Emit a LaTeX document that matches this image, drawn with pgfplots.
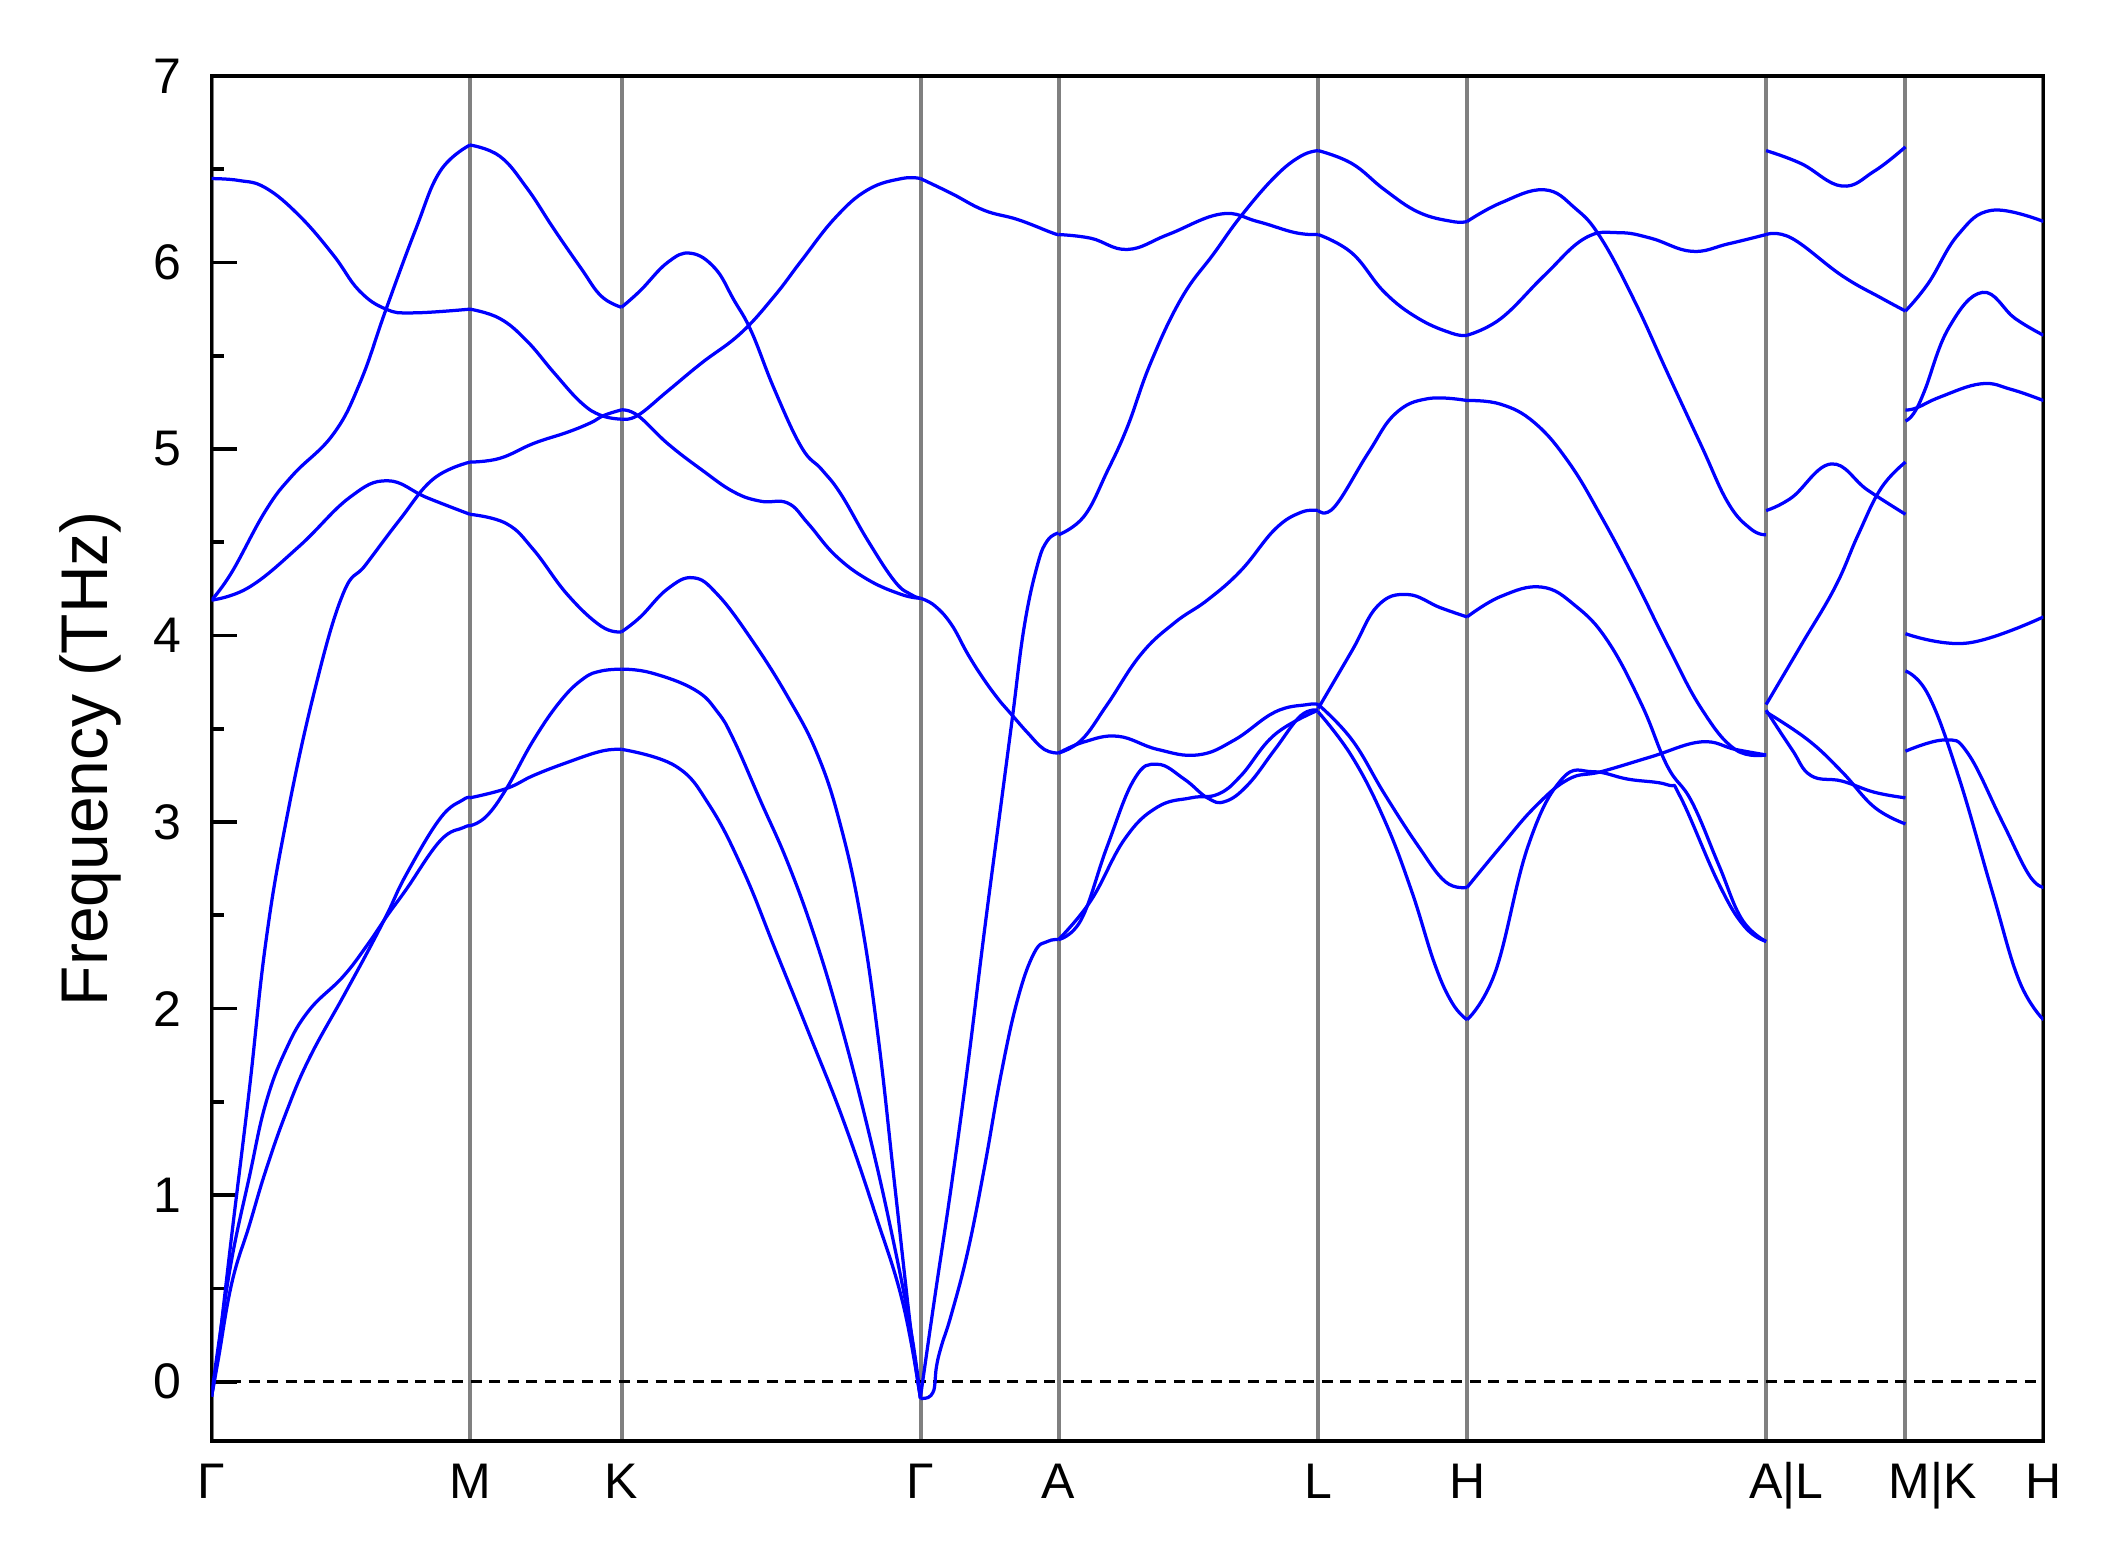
\documentclass[border=0pt]{standalone}
\usepackage{fontspec}
\setmainfont{Liberation Sans}
\usepackage{pgfplots}
\pgfplotsset{compat=1.18}
\pgfplotsset{band/.style={color={rgb,255:red,0;green,0;blue,255}, line width=0.65pt, smooth, tension=0.7, mark=none}}
\begin{document}
\begin{tikzpicture}
\useasboundingbox (-42.3pt,-25.2pt) rectangle (381.6pt,288.2pt);
\begin{axis}[
  at={(0pt,0pt)}, anchor=south west,
  scale only axis, width=366.3pt, height=273pt,
  xmin=0, xmax=1354, ymin=-0.32, ymax=7,
  axis line style={line width=0.75pt},
  ytick={0,1,2,3,4,5,6,7}, minor y tick num=1, ytick pos=left, tick align=inside,
  major tick length=5pt, minor tick length=2.5pt,
  ytick style={line width=0.75pt, black},
  xtick={0,191,303,524,626,818,928,1149,1252,1354},
  xticklabels={Γ,M,K,Γ,A,L,H,{\hspace*{8pt}A|L},{\hspace*{11pt}M|K},H},
  xtick style={draw=none},
  xmajorgrids, major x grid style={color={rgb,255:red,128;green,128;blue,128}, line width=0.8pt},
  /pgf/number format/assume math mode=true,
  tick label style={font=\fontsize{10}{12}\selectfont},
  yticklabel style={xshift=-2.5pt},
  xticklabel style={text height=7.3pt, yshift=-0.5pt},
  ylabel={Frequency (THz)},
  ylabel style={at={(axis description cs:-0.066,0.5)}, anchor=center, font=\fontsize{13.2}{16}\selectfont},
]
\addplot[black, line width=0.7pt, dash pattern=on 2.2pt off 1.5pt] coordinates {(0,0) (1354,0)};
% Gamma - M
\addplot[band] coordinates {(0,6.45)(20,6.44)(40,6.40)(65,6.25)(90,6.04)(109,5.85)(129,5.75)(149,5.73)(191,5.75)};
\addplot[band] coordinates {(0,4.19)(15,4.34)(40,4.67)(60,4.86)(90,5.08)(110,5.36)(129,5.75)(151,6.18)(169,6.49)(191,6.63)};
\addplot[band] coordinates {(0,4.19)(28,4.26)(65,4.48)(102,4.74)(130,4.83)(159,4.74)(191,4.65)};
\addplot[band] coordinates {(0,-0.08)(5,0.17)(15,0.79)(28,1.57)(40,2.35)(55,3.0)(76,3.70)(97,4.22)(114,4.38)(139,4.62)(164,4.84)(191,4.93)};
\addplot[band] coordinates {(0,-0.08)(5,0.19)(15,0.66)(28,1.10)(40,1.49)(55,1.78)(72,1.99)(97,2.17)(115,2.34)(130,2.50)(144,2.64)(169,2.90)(186,2.97)(191,2.98)};
\addplot[band] coordinates {(0,-0.08)(5,0.12)(15,0.53)(28,0.84)(40,1.13)(55,1.44)(72,1.73)(97,2.06)(115,2.30)(130,2.51)(144,2.72)(169,3.02)(186,3.12)(191,3.13)};
% M - K
\addplot[band] coordinates {(191,6.63)(213,6.57)(233,6.40)(253,6.18)(273,5.97)(288,5.82)(303,5.76)};
\addplot[band] coordinates {(191,5.75)(213,5.70)(233,5.58)(253,5.41)(273,5.25)(288,5.18)(303,5.16)};
\addplot[band] coordinates {(191,4.93)(213,4.95)(238,5.03)(263,5.09)(280,5.14)(290,5.18)(303,5.21)};
\addplot[band] coordinates {(191,4.65)(218,4.60)(238,4.46)(263,4.22)(288,4.05)(303,4.02)};
\addplot[band] coordinates {(191,2.98)(203,3.03)(218,3.18)(238,3.44)(258,3.65)(275,3.77)(288,3.81)(303,3.82)};
\addplot[band] coordinates {(191,3.13)(218,3.18)(238,3.25)(263,3.32)(288,3.38)(303,3.39)};
% K - Gamma
\addplot[band] coordinates {(303,5.76)(317,5.85)(337,6.0)(354,6.05)(372,5.97)(386,5.80)(399,5.63)(416,5.32)(436,5.01)(451,4.89)(465,4.76)(485,4.51)(505,4.29)(517,4.22)(524,4.20)};
\addplot[band] coordinates {(303,5.16)(315,5.18)(337,5.31)(362,5.46)(391,5.62)(416,5.82)(436,6.01)(461,6.24)(485,6.39)(510,6.45)(524,6.45)};
\addplot[band] coordinates {(303,5.21)(315,5.18)(337,5.03)(362,4.89)(386,4.77)(406,4.72)(426,4.71)(441,4.60)(461,4.43)(485,4.30)(510,4.22)(524,4.20)};
\addplot[band] coordinates {(303,4.02)(317,4.10)(337,4.25)(356,4.31)(374,4.22)(399,3.98)(426,3.67)(448,3.36)(465,2.98)(480,2.48)(493,1.83)(505,1.05)(517,0.27)(524,-0.09)};
\addplot[band] coordinates {(303,3.82)(325,3.80)(357,3.71)(374,3.59)(386,3.44)(406,3.11)(426,2.78)(446,2.38)(465,1.92)(485,1.36)(502,0.82)(517,0.27)(524,-0.09)};
\addplot[band] coordinates {(303,3.39)(343,3.30)(368,3.09)(393,2.74)(417,2.31)(442,1.86)(467,1.40)(491,0.89)(511,0.42)(524,-0.09)};
% Gamma - A
\addplot[band] coordinates {(524,6.45)(547,6.37)(571,6.28)(596,6.23)(621,6.16)(626,6.15)};
\addplot[band] coordinates {(524,4.20)(534.5,4.16)(546.8,4.06)(559,3.90)(571.3,3.76)(583.6,3.64)(592.1,3.57)(603,3.48)(615.4,3.39)(626,3.37)};
\addplot[band] coordinates {(524,-0.08)(534.5,0.45)(546.8,1.05)(559,1.70)(571.3,2.42)(583.6,3.10)(592.1,3.57)(600.7,4.05)(610.5,4.38)(617.9,4.51)(626,4.55)};
\addplot[band] coordinates {(524,-0.09)(529.6,-0.085)(533,-0.06)(534.5,-0.02)(535.8,0.08)(539.4,0.19)(546.8,0.36)(559,0.70)(571.3,1.15)(583.6,1.65)(595.8,2.05)(608.1,2.30)(617.9,2.36)(626,2.37)};
% A - L
\addplot[band] coordinates {(626,6.15)(650,6.13)(677,6.07)(707,6.15)(746,6.26)(773,6.22)(801,6.16)(818,6.15)};
\addplot[band] coordinates {(626,4.54)(645,4.64)(662,4.88)(677,5.12)(694,5.46)(717,5.81)(741,6.05)(761,6.25)(786,6.46)(805,6.57)(818,6.60)};
\addplot[band] coordinates {(626,3.37)(643,3.44)(662,3.63)(687,3.90)(712,4.07)(736,4.19)(761,4.35)(786,4.57)(805,4.66)(818,4.67)};
\addplot[band] coordinates {(626,3.37)(645,3.43)(670,3.46)(699,3.39)(729,3.36)(756,3.44)(786,3.59)(810,3.63)(818,3.63)};
\addplot[band] coordinates {(626,2.37)(643,2.48)(662,2.87)(682,3.23)(699,3.31)(719,3.23)(736,3.13)(749,3.11)(766,3.20)(786,3.39)(805,3.57)(818,3.60)};
\addplot[band] coordinates {(626,2.37)(650,2.58)(675,2.91)(699,3.08)(724,3.13)(744,3.15)(761,3.25)(786,3.47)(818,3.60)};
% L - H
\addplot[band] coordinates {(818,6.60)(843,6.53)(867,6.39)(892,6.27)(917,6.22)(928,6.22)};
\addplot[band] coordinates {(818,6.15)(843,6.05)(867,5.84)(892,5.70)(917,5.62)(928,5.61)};
\addplot[band] coordinates {(818,4.67)(830,4.69)(855,4.98)(875,5.19)(899,5.27)(928,5.26)};
\addplot[band] coordinates {(818,3.61)(843,3.92)(862,4.16)(884,4.22)(908,4.15)(928,4.10)};
\addplot[band] coordinates {(818,3.63)(843,3.44)(867,3.15)(892,2.87)(912,2.68)(928,2.65)};
\addplot[band] coordinates {(818,3.59)(843,3.35)(867,3.01)(887,2.63)(904,2.24)(917,2.03)(928,1.94)};
% H - A
\addplot[band] coordinates {(928,6.22)(953,6.32)(985,6.39)(1008,6.29)(1027,6.13)(1052,5.79)(1076,5.41)(1101,5.02)(1121,4.71)(1138,4.57)(1149,4.54)};
\addplot[band] coordinates {(928,5.61)(953,5.70)(985,5.93)(1015,6.13)(1040,6.16)(1064,6.13)(1094,6.06)(1121,6.10)(1149,6.15)};
\addplot[band] coordinates {(928,5.26)(953,5.24)(978,5.14)(1003,4.93)(1027,4.64)(1052,4.30)(1076,3.95)(1101,3.61)(1126,3.39)(1149,3.36)};
\addplot[band] coordinates {(928,4.10)(953,4.21)(983,4.26)(1008,4.16)(1032,3.97)(1057,3.63)(1076,3.30)(1094,3.11)(1114,2.77)(1131,2.48)(1149,2.36)};
\addplot[band] coordinates {(928,2.65)(953,2.87)(978,3.08)(1003,3.23)(1027,3.27)(1064,3.35)(1101,3.43)(1126,3.39)(1149,3.36)};
\addplot[band] coordinates {(928,1.94)(949,2.20)(973,2.87)(998,3.23)(1021,3.27)(1047,3.23)(1076,3.20)(1086,3.13)(1114,2.67)(1133,2.44)(1149,2.36)};
% L - M
\addplot[band] coordinates {(1149,6.60)(1175,6.53)(1205,6.41)(1229,6.49)(1252,6.62)};
\addplot[band] coordinates {(1149,6.15)(1168,6.13)(1205,5.93)(1234,5.81)(1252,5.74)};
\addplot[band] coordinates {(1149,4.67)(1168,4.74)(1197,4.92)(1224,4.78)(1252,4.65)};
\addplot[band] coordinates {(1149,3.63)(1175,3.95)(1200,4.26)(1217,4.54)(1234,4.79)(1252,4.93)};
\addplot[band] coordinates {(1149,3.60)(1168,3.39)(1182,3.25)(1205,3.22)(1229,3.16)(1252,3.13)};
\addplot[band] coordinates {(1149,3.59)(1180,3.44)(1205,3.27)(1229,3.08)(1252,2.99)};
% K - H
\addplot[band] coordinates {(1252,5.74)(1269,5.89)(1291,6.15)(1316,6.28)(1354,6.22)};
\addplot[band] coordinates {(1252,5.15)(1258,5.19)(1266,5.31)(1284,5.65)(1309,5.84)(1333,5.70)(1354,5.61)};
\addplot[band] coordinates {(1252,5.21)(1260,5.22)(1278,5.28)(1308,5.35)(1330,5.32)(1354,5.26)};
\addplot[band] coordinates {(1252,4.01)(1298,3.96)(1354,4.10)};
\addplot[band] coordinates {(1252,3.81)(1269,3.68)(1291,3.25)(1316,2.63)(1336,2.15)(1354,1.94)};
\addplot[band] coordinates {(1252,3.38)(1281,3.44)(1298,3.37)(1323,3.01)(1343,2.72)(1354,2.65)};
\end{axis}
\end{tikzpicture}
\end{document}
